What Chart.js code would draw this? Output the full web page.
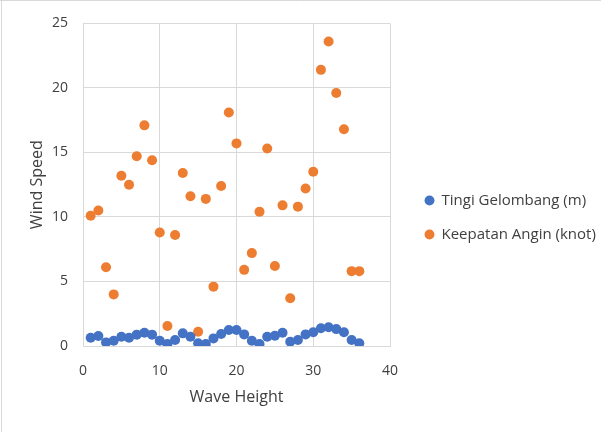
<!DOCTYPE html>
<html>
<head>
<meta charset="utf-8">
<script src="https://cdn.jsdelivr.net/npm/chart.js@4"></script>
<style>
  html, body { margin: 0; padding: 0; background: #fff; }
  #wrap { width: 601px; height: 432px; position: relative; }
</style>
</head>
<body>
<div id="wrap"><canvas id="c" width="601" height="432"></canvas></div>
<script>
// Data
const xValues = [1,2,3,4,5,6,7,8,9,10,11,12,13,14,15,16,17,18,19,20,21,22,23,24,25,26,27,28,29,30,31,32,33,34,35,36];
const tinggiGelombang = [0.64,0.77,0.28,0.41,0.72,0.64,0.88,1.03,0.88,0.41,0.15,0.46,0.98,0.72,0.21,0.15,0.59,0.93,1.24,1.24,0.9,0.41,0.15,0.72,0.8,1.03,0.33,0.46,0.9,1.06,1.37,1.45,1.31,1.06,0.46,0.21];
const kecepatanAngin = [10.1,10.5,6.1,4.0,13.2,12.5,14.7,17.1,14.4,8.8,1.55,8.6,13.4,11.6,1.1,11.4,4.6,12.4,18.1,15.7,5.9,7.2,10.4,15.3,6.2,10.9,3.7,10.8,12.2,13.5,21.4,23.6,19.6,16.8,5.8,5.8];
const seriesNames = ["Tingi Gelombang (m)", "Keepatan Angin (knot)"];
const xTitle = "Wave Height";
const yTitle = "Wind Speed";

const toPoints = (ys) => ys.map((y, i) => ({ x: xValues[i], y: y }));

const FONT = "'Open Sans', 'Liberation Sans', sans-serif";
const TXT = '#404040';
const GRID = '#d9d9d9';

const framePlugin = {
  id: 'frame',
  beforeUpdate(chart) {
    const lg = chart.legend;
    if (lg && !lg._patched) {
      const origFit = lg.fit;
      lg.fit = function() {
        origFit.call(this);
        this.width = 211;
      };
      const origDraw = lg.draw;
      lg.draw = function(area) {
        const ctx = this.ctx;
        ctx.save();
        ctx.translate(16, -10);
        origDraw.call(this, area);
        ctx.restore();
      };
      lg._patched = true;
    }
  },
  beforeDraw(chart) {
    const ctx = chart.ctx;
    ctx.save();
    ctx.fillStyle = '#fff';
    ctx.fillRect(0, 0, chart.width, chart.height);
    ctx.strokeStyle = GRID;
    ctx.lineWidth = 1;
    ctx.beginPath();
    ctx.moveTo(0, 0.5); ctx.lineTo(chart.width, 0.5);
    ctx.moveTo(1.5, 0); ctx.lineTo(1.5, chart.height);
    ctx.stroke();
    ctx.restore();
  }
};

new Chart(document.getElementById('c'), {
  type: 'scatter',
  data: {
    datasets: [
      {
        label: seriesNames[0],
        data: toPoints(tinggiGelombang),
        backgroundColor: '#4472C4',
        borderColor: '#4472C4',
        pointRadius: 5,
        pointHoverRadius: 5,
        borderWidth: 0,
        order: 0
      },
      {
        label: seriesNames[1],
        data: toPoints(kecepatanAngin),
        backgroundColor: '#ED7D31',
        borderColor: '#ED7D31',
        pointRadius: 5,
        pointHoverRadius: 5,
        borderWidth: 0,
        order: 1
      }
    ]
  },
  options: {
    responsive: false,
    animation: false,
    devicePixelRatio: 1,
    layout: { padding: { top: 23, left: 0, right: 0, bottom: 0 } },
    plugins: {
      tooltip: { enabled: false },
      legend: {
        position: 'right',
        align: 'center',
        labels: {
          usePointStyle: true,
          pointStyle: 'circle',
          boxWidth: 9,
          boxHeight: 7,
          padding: 19,
          color: TXT,
          font: { family: FONT, size: 15 }
        }
      }
    },
    scales: {
      x: {
        type: 'linear',
        min: 0,
        max: 40,
        ticks: { stepSize: 10, color: TXT, padding: 17, font: { family: FONT, size: 14 } },
        grid: { color: GRID, lineWidth: 1, drawTicks: false },
        border: { color: GRID, width: 1 },
        title: { display: true, text: xTitle, color: TXT, font: { family: FONT, size: 16 }, padding: { top: 0, bottom: 25 } },
        afterFit(scale) { scale.height = 86; }
      },
      y: {
        type: 'linear',
        min: 0,
        max: 25,
        ticks: { stepSize: 5, color: TXT, padding: 15, font: { family: FONT, size: 14 } },
        grid: { color: GRID, lineWidth: 1, drawTicks: false },
        border: { color: GRID, width: 1 },
        title: { display: true, text: yTitle, color: TXT, font: { family: FONT, size: 16 }, padding: { top: 28, bottom: 0 } },
        afterFit(scale) { scale.width = 83; }
      }
    }
  },
  plugins: [framePlugin]
});
</script>
</body>
</html>
